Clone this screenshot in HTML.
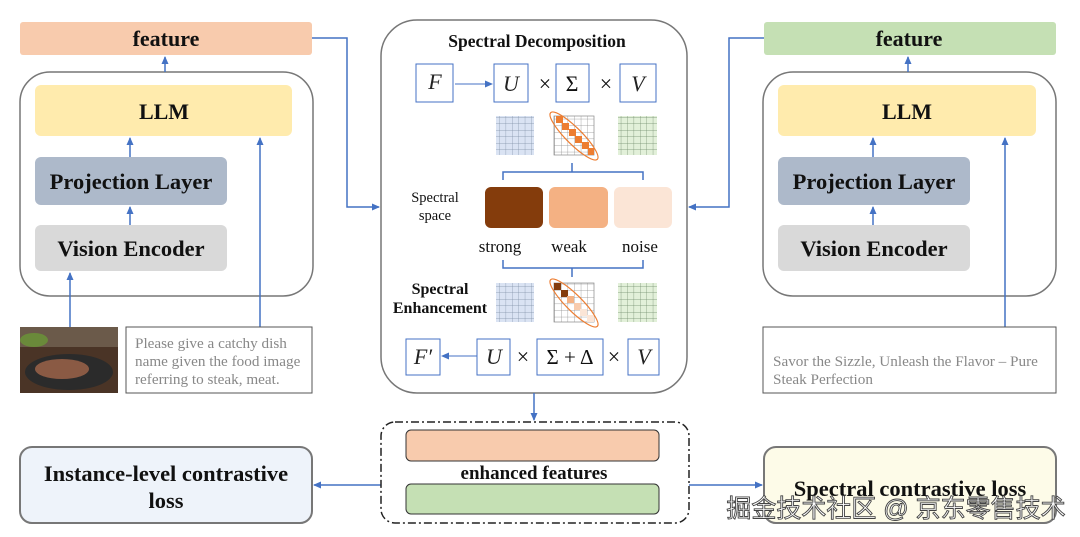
<!DOCTYPE html>
<html><head><meta charset="utf-8"><style>
body{margin:0;background:#fff}
svg{display:block}
.b{font-family:"Liberation Serif",serif;font-weight:bold;fill:#111}
.s{font-family:"Liberation Serif",serif;fill:#111}
.m{font-family:"Liberation Serif",serif;font-style:italic;fill:#222;font-size:22px}
.g{font-family:"Liberation Serif",serif;fill:#888;font-size:15.2px}
</style></head><body>
<svg width="1080" height="537" viewBox="0 0 1080 537" xmlns="http://www.w3.org/2000/svg">
<defs>
<marker id="a" markerWidth="8" markerHeight="8" refX="7" refY="4" orient="auto" markerUnits="userSpaceOnUse"><path d="M0,0.5 L8,4 L0,7.5z" fill="#4472c4"/></marker>
<pattern id="gb" width="6.4" height="6.5" patternUnits="userSpaceOnUse"><rect width="6.4" height="6.5" fill="#dae3f3"/><path d="M0,0H6.4M0,0V6.5" stroke="#7f8fa6" stroke-width="0.7"/></pattern>
<pattern id="gg" width="6.4" height="6.5" patternUnits="userSpaceOnUse"><rect width="6.4" height="6.5" fill="#e2f0d9"/><path d="M0,0H6.4M0,0V6.5" stroke="#6f8a6a" stroke-width="0.7"/></pattern>
<pattern id="gw" width="6.6" height="6.6" patternUnits="userSpaceOnUse"><rect width="6.6" height="6.6" fill="#fff"/><path d="M0,0H6.6M0,0V6.6" stroke="#888" stroke-width="0.7"/></pattern>
</defs>
<g stroke="#4472c4" stroke-width="1.5" fill="none">
<rect x="20" y="22" width="292" height="33" fill="#f8cbad" stroke="none" rx="3"/>
<rect x="20" y="72" width="293" height="224" rx="30" stroke="#777" fill="#fff"/>
<rect x="35" y="85" width="257" height="51" rx="6" fill="#ffe699" stroke="none" opacity="0.8"/>
<rect x="35" y="157" width="192" height="48" rx="6" fill="#adb9ca" stroke="none"/>
<rect x="35" y="225" width="192" height="46" rx="6" fill="#d9d9d9" stroke="none"/>
<line x1="165" y1="72" x2="165" y2="57" marker-end="url(#a)"/>
<line x1="130" y1="157" x2="130" y2="138" marker-end="url(#a)"/>
<line x1="130" y1="225" x2="130" y2="207" marker-end="url(#a)"/>
<line x1="70" y1="327" x2="70" y2="273" marker-end="url(#a)"/>
<line x1="260" y1="327" x2="260" y2="138" marker-end="url(#a)"/>
<rect x="126" y="327" width="186" height="66" stroke="#555" stroke-width="1"/>
<polyline points="312,38 347,38 347,207 379,207" marker-end="url(#a)"/>
<rect x="20" y="447" width="292" height="76" rx="12" fill="#eef3fa" stroke="#777" stroke-width="2"/>
<line x1="381" y1="485" x2="314" y2="485" marker-end="url(#a)"/>
<rect x="764" y="22" width="292" height="33" fill="#c5e0b4" stroke="none" rx="3"/>
<rect x="763" y="72" width="293" height="224" rx="30" stroke="#777" fill="#fff"/>
<rect x="778" y="85" width="258" height="51" rx="6" fill="#ffe699" stroke="none" opacity="0.8"/>
<rect x="778" y="157" width="192" height="48" rx="6" fill="#adb9ca" stroke="none"/>
<rect x="778" y="225" width="192" height="46" rx="6" fill="#d9d9d9" stroke="none"/>
<line x1="908" y1="72" x2="908" y2="57" marker-end="url(#a)"/>
<line x1="873" y1="157" x2="873" y2="138" marker-end="url(#a)"/>
<line x1="873" y1="225" x2="873" y2="207" marker-end="url(#a)"/>
<line x1="1005" y1="327" x2="1005" y2="138" marker-end="url(#a)"/>
<rect x="763" y="327" width="293" height="66" stroke="#555" stroke-width="1"/>
<polyline points="764,38 729,38 729,207 689,207" marker-end="url(#a)"/>
<rect x="764" y="447" width="292" height="76" rx="12" fill="#fdfbe8" stroke="#777" stroke-width="2"/>
<line x1="689" y1="485" x2="762" y2="485" marker-end="url(#a)"/>
<rect x="381" y="20" width="306" height="373" rx="36" stroke="#777" fill="#fff"/>
<line x1="534" y1="393" x2="534" y2="420" marker-end="url(#a)"/>
<rect x="381" y="422" width="308" height="101" rx="14" stroke="#222" stroke-dasharray="8,3,2,3" stroke-width="1.5"/>
<rect x="406" y="430" width="253" height="31" rx="5" fill="#f8cbad" stroke="#333" stroke-width="1"/>
<rect x="406" y="484" width="253" height="30" rx="5" fill="#c5e0b4" stroke="#333" stroke-width="1"/>
<g stroke="#4472c4" stroke-width="1">
<rect x="416" y="64" width="37" height="38"/><rect x="494" y="64" width="34" height="38"/>
<rect x="556" y="64" width="33" height="38"/><rect x="620" y="64" width="36" height="38"/>
<rect x="406" y="339" width="34" height="36"/><rect x="477" y="339" width="33" height="36"/>
<rect x="537" y="339" width="66" height="36"/><rect x="628" y="339" width="31" height="36"/>
</g>
<line x1="455" y1="84" x2="492" y2="84" stroke-width="1" marker-end="url(#a)"/>
<line x1="477" y1="356" x2="442" y2="356" stroke-width="1" marker-end="url(#a)"/>
<rect x="496" y="116" width="38" height="39" fill="url(#gb)" stroke="none"/>
<rect x="618" y="116" width="39" height="39" fill="url(#gg)" stroke="none"/>
<rect x="496" y="283" width="38" height="39" fill="url(#gb)" stroke="none"/>
<rect x="618" y="283" width="39" height="39" fill="url(#gg)" stroke="none"/>
<rect x="554" y="116" width="40" height="39" fill="url(#gw)" stroke="#888" stroke-width="0.7"/>
<rect x="554" y="283" width="40" height="39" fill="url(#gw)" stroke="#888" stroke-width="0.7"/>
<g stroke="none" fill="#ed7d31">
<rect x="556" y="116" width="7" height="7"/><rect x="562" y="123" width="7" height="7"/><rect x="569" y="129" width="7" height="7"/><rect x="575" y="136" width="7" height="7"/><rect x="582" y="142" width="7" height="7"/><rect x="588" y="148" width="6" height="7"/>
</g>
<g stroke="none">
<rect x="554" y="283" width="7" height="7" fill="#843c0c"/><rect x="561" y="290" width="7" height="7" fill="#843c0c"/><rect x="567" y="296" width="7" height="7" fill="#f4b183"/><rect x="574" y="303" width="7" height="7" fill="#f8cbad"/><rect x="580" y="309" width="7" height="7" fill="#fbe5d6"/><rect x="587" y="315" width="7" height="7" fill="#fbe5d6"/>
</g>
<ellipse cx="574" cy="136" rx="33" ry="8" transform="rotate(45 574 136)" stroke="#ed7d31" stroke-width="1.2"/>
<ellipse cx="574" cy="303" rx="33" ry="8" transform="rotate(45 574 303)" stroke="#ed7d31" stroke-width="1.2"/>
<path d="M503,180 V172 H572 V163 M572,172 H643 V180" stroke-width="1.5"/>
<path d="M503,260 V268 H572 V277 M572,268 H643 V260" stroke-width="1.5"/>
<rect x="485" y="187" width="58" height="41" rx="6" fill="#843c0c" stroke="none"/>
<rect x="549" y="187" width="59" height="41" rx="6" fill="#f4b183" stroke="none"/>
<rect x="614" y="187" width="58" height="41" rx="6" fill="#fbe5d6" stroke="none"/>
</g>
<text x="166" y="46" class="b" font-size="22" text-anchor="middle">feature</text>
<text x="164" y="119" class="b" font-size="22" text-anchor="middle">LLM</text>
<text x="131" y="189" class="b" font-size="22.5" text-anchor="middle">Projection Layer</text>
<text x="131" y="256" class="b" font-size="22.5" text-anchor="middle">Vision Encoder</text>
<text x="909" y="46" class="b" font-size="22" text-anchor="middle">feature</text>
<text x="907" y="119" class="b" font-size="22" text-anchor="middle">LLM</text>
<text x="874" y="189" class="b" font-size="22.5" text-anchor="middle">Projection Layer</text>
<text x="874" y="256" class="b" font-size="22.5" text-anchor="middle">Vision Encoder</text>
<text class="g"><tspan x="135" y="348">Please give a catchy dish</tspan><tspan x="135" y="366">name given the food image</tspan><tspan x="135" y="384">referring to steak, meat.</tspan></text>
<text class="g"><tspan x="773" y="366">Savor the Sizzle, Unleash the Flavor – Pure</tspan><tspan x="773" y="384">Steak Perfection</tspan></text>
<text x="166" y="481" class="b" font-size="22.5" text-anchor="middle">Instance-level contrastive</text>
<text x="166" y="508" class="b" font-size="22.5" text-anchor="middle">loss</text>
<text x="910" y="496" class="b" font-size="22.5" text-anchor="middle">Spectral contrastive loss</text>
<text x="534" y="479" class="b" font-size="19" text-anchor="middle">enhanced features</text>
<text x="537" y="47" class="b" font-size="17.5" text-anchor="middle">Spectral Decomposition</text>
<text x="435" y="89" class="m" text-anchor="middle">F</text>
<text x="511" y="91" class="m" text-anchor="middle">U</text>
<text x="572" y="91" class="s" font-size="22" text-anchor="middle">Σ</text>
<text x="638" y="91" class="m" text-anchor="middle">V</text>
<text x="545" y="91" class="s" font-size="22" text-anchor="middle">×</text>
<text x="606" y="91" class="s" font-size="22" text-anchor="middle">×</text>
<text x="423" y="364" class="m" text-anchor="middle">F′</text>
<text x="494" y="364" class="m" text-anchor="middle">U</text>
<text x="570" y="364" class="s" font-size="21" text-anchor="middle">Σ + Δ</text>
<text x="644" y="364" class="m" text-anchor="middle">V</text>
<text x="523" y="364" class="s" font-size="22" text-anchor="middle">×</text>
<text x="614" y="364" class="s" font-size="22" text-anchor="middle">×</text>
<text x="435" y="202" class="s" font-size="14.5" text-anchor="middle">Spectral</text>
<text x="435" y="220" class="s" font-size="14.5" text-anchor="middle">space</text>
<text x="500" y="252" class="s" font-size="17" text-anchor="middle">strong</text>
<text x="569" y="252" class="s" font-size="17" text-anchor="middle">weak</text>
<text x="640" y="252" class="s" font-size="17" text-anchor="middle">noise</text>
<text x="440" y="294" class="b" font-size="16" text-anchor="middle">Spectral</text>
<text x="440" y="313" class="b" font-size="16" text-anchor="middle">Enhancement</text>
<rect x="20" y="327" width="98" height="66" fill="#4a3426"/>
<rect x="20" y="327" width="98" height="20" fill="#6b5a4a"/>
<ellipse cx="69" cy="372" rx="44" ry="18" fill="#2b2b2b"/>
<ellipse cx="62" cy="369" rx="27" ry="10" fill="#8a5a44"/>
<ellipse cx="34" cy="340" rx="14" ry="7" fill="#6a8a3a"/>
<text x="896" y="517" font-family="'Liberation Sans','Noto Sans CJK SC',sans-serif" font-size="25" fill="#fff" stroke="#444" stroke-width="0.9" text-anchor="middle">掘金技术社区 @ 京东零售技术</text>
</svg>
</body></html>
